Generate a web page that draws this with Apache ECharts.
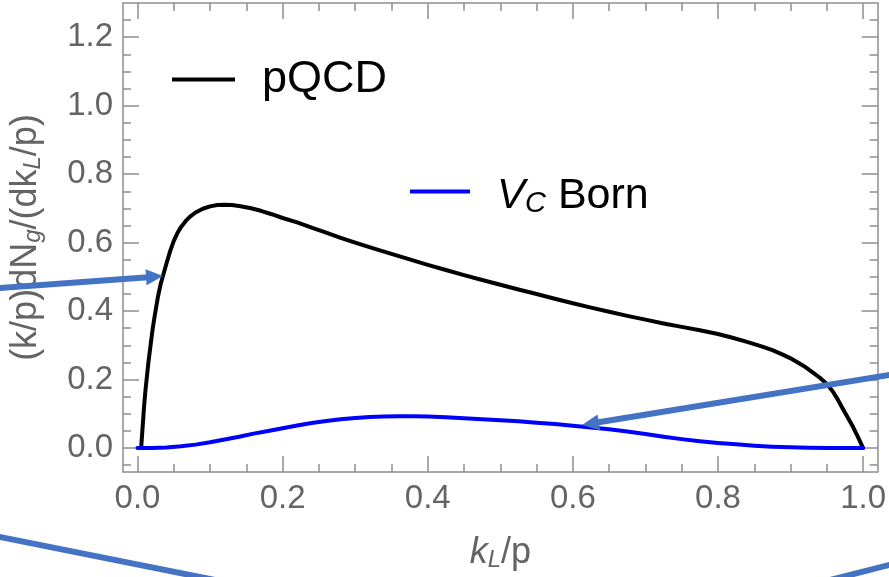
<!DOCTYPE html>
<html>
<head>
<meta charset="utf-8">
<script src="https://cdn.jsdelivr.net/npm/echarts@6/dist/echarts.min.js"></script>
<style>
  html, body { margin: 0; padding: 0; background: #fff; }
  #chart { width: 889px; height: 577px; }
</style>
</head>
<body>
<div id="chart"></div>
<script>
// Gluon spectrum (k/p) dN_g/(dk_L/p) versus k_L/p
const kPQCD = [0.005, 0.007, 0.009, 0.011, 0.013, 0.015, 0.018, 0.021, 0.024, 0.028,
  0.032, 0.036, 0.040, 0.045, 0.050, 0.055, 0.060, 0.066, 0.072, 0.080, 0.090, 0.100,
  0.110, 0.120, 0.130, 0.140, 0.155, 0.170, 0.185, 0.200, 0.220, 0.240, 0.260, 0.280,
  0.300, 0.325, 0.350, 0.375, 0.400, 0.425, 0.450, 0.475, 0.500, 0.525, 0.550, 0.575,
  0.600, 0.625, 0.650, 0.675, 0.700, 0.725, 0.750, 0.775, 0.800, 0.820, 0.840, 0.860,
  0.875, 0.890, 0.900, 0.910, 0.920, 0.930, 0.940, 0.950, 0.958, 0.965, 0.972, 0.980,
  0.986, 0.992, 1.000];
const vPQCD = [0, 0.06, 0.12, 0.17, 0.21, 0.25, 0.30, 0.35, 0.39, 0.44,
  0.48, 0.51, 0.54, 0.575, 0.605, 0.628, 0.646, 0.662, 0.675, 0.688, 0.699, 0.706,
  0.710, 0.711, 0.710, 0.707, 0.701, 0.693, 0.683, 0.672, 0.659, 0.644, 0.629, 0.614,
  0.600, 0.583, 0.567, 0.551, 0.535, 0.520, 0.505, 0.491, 0.477, 0.463, 0.450, 0.436,
  0.423, 0.410, 0.398, 0.386, 0.375, 0.364, 0.354, 0.344, 0.333, 0.322, 0.310, 0.297,
  0.286, 0.272, 0.262, 0.250, 0.237, 0.222, 0.206, 0.187, 0.166, 0.142, 0.115, 0.085,
  0.062, 0.036, 0];

const kBorn = [0, 0.02, 0.04, 0.06, 0.08, 0.10, 0.12, 0.14, 0.16, 0.18, 0.20, 0.22,
  0.24, 0.26, 0.28, 0.30, 0.32, 0.34, 0.36, 0.38, 0.40, 0.425, 0.45, 0.475, 0.50,
  0.525, 0.55, 0.575, 0.60, 0.625, 0.65, 0.675, 0.70, 0.725, 0.75, 0.775, 0.80,
  0.825, 0.85, 0.875, 0.90, 0.925, 0.95, 1.0];
const vBorn = [0, 0.0003, 0.0015, 0.005, 0.010, 0.017, 0.025, 0.033, 0.042, 0.050, 0.058, 0.066,
  0.073, 0.079, 0.084, 0.088, 0.091, 0.092, 0.093, 0.093, 0.092, 0.090, 0.087, 0.084, 0.081,
  0.078, 0.074, 0.070, 0.065, 0.060, 0.055, 0.048, 0.041, 0.033, 0.026, 0.020, 0.015,
  0.011, 0.007, 0.004, 0.002, 0.001, 0.0004, 0];

// Axis ranges and tick values
const xRange = [-0.02, 1.02];
const yRange = [-0.07, 1.30];
const xMajor = [0, 0.2, 0.4, 0.6, 0.8, 1.0];
const xMinor = [0.05, 0.1, 0.15, 0.25, 0.3, 0.35, 0.45, 0.5, 0.55, 0.65, 0.7, 0.75, 0.85, 0.9, 0.95];
const yMajor = [0, 0.2, 0.4, 0.6, 0.8, 1.0, 1.2];
const yMinor = [-0.05, 0.05, 0.1, 0.15, 0.25, 0.3, 0.35, 0.45, 0.5, 0.55, 0.65, 0.7, 0.75,
  0.85, 0.9, 0.95, 1.05, 1.1, 1.15, 1.25];

const seriesNames = ['pQCD', 'VC Born'];

const FRAME = '#8e8e8e';
const LABEL = '#646464';
const FONT = 'Liberation Sans, Arial, sans-serif';

function pairs(xs, ys) { return xs.map((x, i) => [x, ys[i]]); }

function makeAxis(kind, pos, ticks, len, main, extra) {
  const range = kind === 'x' ? xRange : yRange;
  return Object.assign({
    type: 'value', position: pos, min: range[0], max: range[1],
    axisLine: { show: main, onZero: false, lineStyle: { color: FRAME, width: 1.5 } },
    axisTick: { show: true, inside: true, length: len, customValues: ticks,
      lineStyle: { color: FRAME, width: 1.5 } },
    axisLabel: { show: false },
    splitLine: { show: false }
  }, extra || {});
}

const chart = echarts.init(document.getElementById('chart'), null, { renderer: 'canvas' });

const option = {
  animation: false,
  backgroundColor: '#ffffff',
  grid: { left: 120, right: 9, top: 3, bottom: 103, containLabel: false },
  xAxis: [
    makeAxis('x', 'bottom', xMajor, 16, true, {
      axisLabel: { show: true, customValues: xMajor, margin: 10,
        formatter: v => v.toFixed(1), fontSize: 33, color: LABEL, fontFamily: FONT },
      name: '{k|k}{s|L}{n|/p}', nameLocation: 'middle', nameGap: 62,
      nameTextStyle: { color: LABEL, fontFamily: FONT, rich: {
        k: { fontSize: 36, fontStyle: 'italic', color: LABEL, fontFamily: FONT },
        s: { fontSize: 24, fontStyle: 'italic', color: LABEL, fontFamily: FONT, verticalAlign: 'bottom', padding: [14, 0, 0, 0] },
        n: { fontSize: 36, color: LABEL, fontFamily: FONT }
      } }
    }),
    makeAxis('x', 'bottom', xMinor, 8, false),
    makeAxis('x', 'top', xMajor, 16, true),
    makeAxis('x', 'top', xMinor, 8, false)
  ],
  yAxis: [
    makeAxis('y', 'left', yMajor, 16, true, {
      axisLabel: { show: true, customValues: yMajor, margin: 10,
        formatter: v => v.toFixed(1), fontSize: 33, color: LABEL, fontFamily: FONT },
      name: '{n|(k/p)dN}{s|g}{n|/(dk}{s|L}{n|/p)}', nameLocation: 'middle', nameGap: 78,
      nameTextStyle: { color: LABEL, fontFamily: FONT, rich: {
        n: { fontSize: 36, color: LABEL, fontFamily: FONT },
        s: { fontSize: 24, fontStyle: 'italic', color: LABEL, fontFamily: FONT, verticalAlign: 'bottom', padding: [14, 0, 0, 0] }
      } }
    }),
    makeAxis('y', 'left', yMinor, 8, false),
    makeAxis('y', 'right', yMajor, 16, true),
    makeAxis('y', 'right', yMinor, 8, false)
  ],
  legend: [
    {
      data: [seriesNames[0]], left: 172, top: 57, padding: 0,
      icon: 'rect', itemWidth: 63, itemHeight: 4,
      textStyle: { fontSize: 45, color: '#000', fontFamily: FONT, padding: [14, 0, 0, 22] }
    },
    {
      data: [seriesNames[1]], left: 410, top: 175, padding: 0,
      icon: 'rect', itemWidth: 60, itemHeight: 4,
      formatter: () => '{v|V}{c|C}{b| Born}',
      textStyle: { color: '#000', fontFamily: FONT, padding: [10, 0, 0, 22], rich: {
        v: { fontSize: 42, fontStyle: 'italic', color: '#000', fontFamily: FONT },
        c: { fontSize: 29, fontStyle: 'italic', color: '#000', fontFamily: FONT, verticalAlign: 'bottom', padding: [14, 0, 0, 0] },
        b: { fontSize: 43, color: '#000', fontFamily: FONT }
      } }
    }
  ],
  series: [
    {
      name: seriesNames[0], type: 'line', data: pairs(kPQCD, vPQCD),
      xAxisIndex: 0, yAxisIndex: 0, showSymbol: false, symbol: 'none',
      smooth: false, sampling: 'none',
      lineStyle: { color: '#000000', width: 4, cap: 'round', join: 'round' },
      itemStyle: { color: '#000000' }, z: 3
    },
    {
      name: seriesNames[1], type: 'line', data: pairs(kBorn, vBorn),
      xAxisIndex: 0, yAxisIndex: 0, showSymbol: false, symbol: 'none',
      smooth: false, sampling: 'none',
      lineStyle: { color: '#0000ff', width: 4, cap: 'round', join: 'round' },
      itemStyle: { color: '#0000ff' }, z: 4
    }
  ],
  // Annotation arrows and strokes drawn over the plot
  graphic: [
    { type: 'line', z: 100, shape: { x1: -5, y1: 288.4, x2: 148, y2: 277.3 },
      style: { stroke: '#4472c4', lineWidth: 6 } },
    { type: 'polygon', z: 100, shape: { points: [[163, 276], [146.6, 285.2], [145.5, 269.3]] },
      style: { fill: '#4472c4' } },
    { type: 'line', z: 100, shape: { x1: 895, y1: 374, x2: 597, y2: 422.5 },
      style: { stroke: '#4472c4', lineWidth: 6 } },
    { type: 'polygon', z: 100, shape: { points: [[582, 425], [600.1, 430.2], [597.5, 414.4]] },
      style: { fill: '#4472c4' } },
    { type: 'line', z: 100, shape: { x1: -5, y1: 536, x2: 215, y2: 580 },
      style: { stroke: '#4472c4', lineWidth: 6 } },
    { type: 'line', z: 100, shape: { x1: 830, y1: 580, x2: 895, y2: 563.5 },
      style: { stroke: '#4472c4', lineWidth: 6 } }
  ]
};

chart.setOption(option);
</script>
</body>
</html>
